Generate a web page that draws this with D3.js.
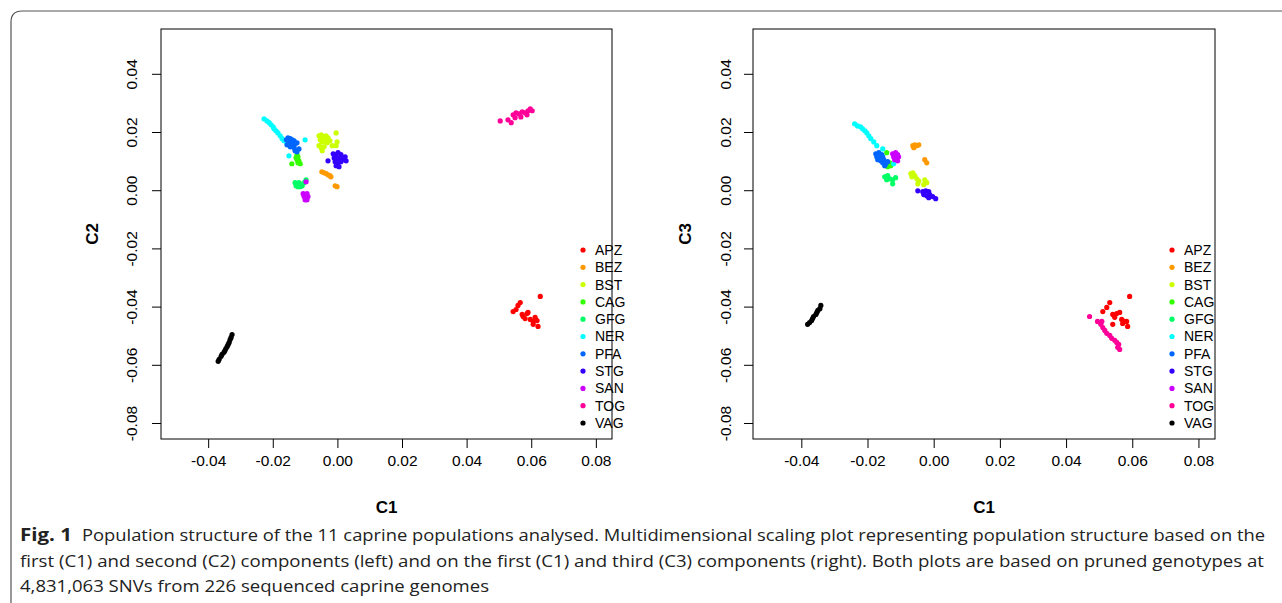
<!DOCTYPE html>
<html>
<head>
<meta charset="utf-8">
<script src="https://cdn.jsdelivr.net/npm/d3@7/dist/d3.min.js"></script>
<style>
  body { margin: 0; background: #fff; }
  svg text { font-family: "Liberation Sans", Arial, sans-serif; }
  .caption { font-family: "Open Sans", "Noto Sans", sans-serif !important; font-size: 17px; fill: #222; }
</style>
</head>
<body>
<div id="chart"></div>
<script>
// populations and their plot colours (R rainbow(10) + black)
const populations = ['APZ', 'BEZ', 'BST', 'CAG', 'GFG', 'NER', 'PFA', 'STG', 'SAN', 'TOG', 'VAG'];
const colors = ['#FF0000', '#FF9900', '#CCFF00', '#33FF00', '#00FF66', '#00FFFF', '#0066FF', '#3300FF', '#CC00FF', '#FF0099', '#000000'];
const xTicks = [-0.04, -0.02, 0.00, 0.02, 0.04, 0.06, 0.08];
const yTicks = [-0.08, -0.06, -0.04, -0.02, 0.00, 0.02, 0.04];

// left plot: [C1, C2]
const c2APZ = [[0.0628,-0.0365],[0.0566,-0.0386],[0.0559,-0.0396],[0.0544,-0.0417],[0.0553,-0.0410],[0.0572,-0.0427],[0.0575,-0.0434],[0.0587,-0.0424],[0.0590,-0.0420],[0.0581,-0.0441],[0.0597,-0.0444],[0.0606,-0.0451],[0.0606,-0.0461],[0.0618,-0.0448],[0.0621,-0.0468],[0.0612,-0.0437]];
const c2BEZ = [[-0.0048,0.0063],[-0.0041,0.0060],[-0.0035,0.0057],[-0.0029,0.0053],[-0.0023,0.0050],[-0.0020,0.0046],[-0.0007,0.0015],[-0.0001,0.0012]];
const c2BST = [[-0.0057,0.0187],[-0.0050,0.0190],[-0.0044,0.0184],[-0.0035,0.0187],[-0.0029,0.0180],[-0.0053,0.0173],[-0.0047,0.0166],[-0.0038,0.0170],[-0.0032,0.0163],[-0.0023,0.0170],[-0.0057,0.0153],[-0.0050,0.0146],[-0.0041,0.0149],[-0.0047,0.0136],[-0.0004,0.0197],[-0.0001,0.0166],[-0.0004,0.0153],[-0.0016,0.0153]];
const c2CAG = [[-0.0125,0.0122],[-0.0122,0.0115],[-0.0125,0.0105],[-0.0119,0.0101],[-0.0122,0.0094],[-0.0115,0.0091],[-0.0141,0.0091],[-0.0128,0.0112]];
const c2GFG = [[-0.0131,0.0026],[-0.0125,0.0022],[-0.0119,0.0026],[-0.0112,0.0019],[-0.0128,0.0015],[-0.0122,0.0012],[-0.0115,0.0012],[-0.0109,0.0015],[-0.0103,0.0026],[-0.0097,0.0036]];
const c2NER = [[-0.0227,0.0245],[-0.0218,0.0238],[-0.0211,0.0232],[-0.0205,0.0225],[-0.0199,0.0218],[-0.0196,0.0211],[-0.0190,0.0204],[-0.0184,0.0197],[-0.0177,0.0187],[-0.0171,0.0177],[-0.0165,0.0170],[-0.0100,0.0173],[-0.0150,0.0118],[-0.0156,0.0163]];
const c2PFA = [[-0.0158,0.0173],[-0.0153,0.0180],[-0.0146,0.0177],[-0.0140,0.0173],[-0.0134,0.0170],[-0.0150,0.0166],[-0.0143,0.0160],[-0.0137,0.0163],[-0.0131,0.0160],[-0.0125,0.0163],[-0.0156,0.0156],[-0.0146,0.0149],[-0.0140,0.0153],[-0.0134,0.0146],[-0.0131,0.0136],[-0.0125,0.0132],[-0.0119,0.0142]];
const c2STG = [[-0.0013,0.0125],[-0.0004,0.0122],[0.0002,0.0129],[0.0011,0.0122],[-0.0010,0.0111],[-0.0001,0.0108],[0.0008,0.0111],[0.0018,0.0105],[0.0027,0.0101],[-0.0007,0.0098],[0.0002,0.0094],[0.0011,0.0098],[-0.0004,0.0084],[0.0005,0.0081],[-0.0029,0.0101],[0.0024,0.0115]];
const c2SAN = [[-0.0106,-0.0012],[-0.0100,-0.0015],[-0.0094,-0.0012],[-0.0103,-0.0022],[-0.0097,-0.0026],[-0.0091,-0.0022],[-0.0100,-0.0033],[-0.0094,-0.0033],[-0.0097,0.0029]];
const c2TOG = [[0.0504,0.0238],[0.0528,0.0242],[0.0538,0.0232],[0.0544,0.0259],[0.0553,0.0266],[0.0562,0.0262],[0.0572,0.0269],[0.0581,0.0266],[0.0590,0.0273],[0.0597,0.0280],[0.0603,0.0273],[0.0587,0.0259],[0.0568,0.0252],[0.0550,0.0249]];
const c2VAG = [[-0.0326,-0.0496],[-0.0329,-0.0506],[-0.0332,-0.0513],[-0.0335,-0.0523],[-0.0338,-0.0530],[-0.0341,-0.0537],[-0.0345,-0.0544],[-0.0348,-0.0551],[-0.0351,-0.0557],[-0.0357,-0.0564],[-0.0360,-0.0571],[-0.0366,-0.0581],[-0.0369,-0.0588]];

// right plot: [C1, C3]
const c3APZ = [[0.0592,-0.0365],[0.0532,-0.0386],[0.0511,-0.0417],[0.0523,-0.0403],[0.0541,-0.0427],[0.0553,-0.0424],[0.0562,-0.0420],[0.0547,-0.0437],[0.0568,-0.0444],[0.0577,-0.0451],[0.0571,-0.0458],[0.0583,-0.0451],[0.0586,-0.0468],[0.0541,-0.0461]];
const c3BEZ = [[-0.0063,0.0153],[-0.0057,0.0156],[-0.0051,0.0153],[-0.0045,0.0156],[-0.0060,0.0146],[-0.0027,0.0105],[-0.0021,0.0094]];
const c3BST = [[-0.0069,0.0057],[-0.0063,0.0060],[-0.0066,0.0046],[-0.0057,0.0050],[-0.0051,0.0039],[-0.0045,0.0032],[-0.0048,0.0022],[-0.0027,0.0036],[-0.0021,0.0026],[-0.0030,0.0019]];
const c3CAG = [[-0.0142,0.0129],[-0.0139,0.0081],[-0.0133,0.0094],[-0.0130,0.0084]];
const c3GFG = [[-0.0148,0.0046],[-0.0139,0.0050],[-0.0142,0.0036],[-0.0133,0.0039],[-0.0124,0.0036],[-0.0115,0.0043],[-0.0124,0.0022]];
const c3NER = [[-0.0239,0.0228],[-0.0230,0.0221],[-0.0221,0.0218],[-0.0215,0.0211],[-0.0208,0.0204],[-0.0202,0.0197],[-0.0196,0.0187],[-0.0190,0.0177],[-0.0181,0.0166],[-0.0172,0.0153],[-0.0154,0.0142],[-0.0121,0.0091]];
const c3PFA = [[-0.0175,0.0125],[-0.0166,0.0129],[-0.0157,0.0122],[-0.0172,0.0115],[-0.0163,0.0111],[-0.0154,0.0115],[-0.0169,0.0105],[-0.0160,0.0101],[-0.0151,0.0105],[-0.0154,0.0094],[-0.0145,0.0091],[-0.0139,0.0098],[-0.0148,0.0084]];
const c3STG = [[-0.0048,-0.0002],[-0.0033,-0.0005],[-0.0024,-0.0002],[-0.0015,-0.0005],[-0.0030,-0.0015],[-0.0021,-0.0019],[-0.0012,-0.0015],[-0.0003,-0.0022],[0.0006,-0.0029],[-0.0015,-0.0026]];
const c3SAN = [[-0.0124,0.0125],[-0.0115,0.0129],[-0.0109,0.0122],[-0.0121,0.0115],[-0.0112,0.0111],[-0.0106,0.0115],[-0.0118,0.0105],[-0.0109,0.0101]];
const c3TOG = [[0.0471,-0.0434],[0.0495,-0.0451],[0.0505,-0.0461],[0.0511,-0.0472],[0.0517,-0.0482],[0.0523,-0.0492],[0.0532,-0.0499],[0.0538,-0.0509],[0.0547,-0.0516],[0.0553,-0.0523],[0.0559,-0.0530],[0.0556,-0.0540],[0.0562,-0.0547],[0.0508,-0.0451]];
const c3VAG = [[-0.0341,-0.0396],[-0.0344,-0.0407],[-0.0350,-0.0413],[-0.0353,-0.0420],[-0.0356,-0.0427],[-0.0363,-0.0434],[-0.0366,-0.0441],[-0.0369,-0.0448],[-0.0375,-0.0455],[-0.0381,-0.0461]];

const leftSets = [c2APZ, c2BEZ, c2BST, c2CAG, c2GFG, c2NER, c2PFA, c2STG, c2SAN, c2TOG, c2VAG];
const rightSets = [c3APZ, c3BEZ, c3BST, c3CAG, c3GFG, c3NER, c3PFA, c3STG, c3SAN, c3TOG, c3VAG];

const W = 1282, H = 603;
const svg = d3.select('#chart').append('svg')
    .attr('width', W)
    .attr('height', H);

// rounded frame of the figure
svg.append('path')
    .attr('d', 'M11,603 L11,22 Q11,11 22,11 L1282,11')
    .attr('fill', 'none')
    .attr('stroke', '#555')
    .attr('stroke-width', 1.2);

// R style labels, plain hyphen for minus
const fmt = d => d.toFixed(2);

function drawPanel(box, sets, yTitle) {
    const x = d3.scaleLinear().domain([-0.0546, 0.0850]).range([box.left, box.right]);
    const y = d3.scaleLinear().domain([-0.0855, 0.0554]).range([box.bottom, box.top]);
    const g = svg.append('g');

    const xAxis = d3.axisBottom(x)
        .tickValues(xTicks)
        .tickFormat(fmt)
        .tickSize(9)
        .tickPadding(7)
        .tickSizeOuter(0);
    const xg = g.append('g')
        .attr('transform', `translate(0, ${box.bottom})`)
        .call(xAxis);
    xg.select('.domain').remove();
    xg.selectAll('text').attr('font-size', 15.5).attr('font-family', 'Liberation Sans, Arial, sans-serif').attr('fill', '#000');

    const yAxis = d3.axisLeft(y)
        .tickValues(yTicks)
        .tickFormat(fmt)
        .tickSize(9)
        .tickSizeOuter(0);
    const yg = g.append('g')
        .attr('transform', `translate(${box.left}, 0)`)
        .call(yAxis);
    yg.select('.domain').remove();
    yg.selectAll('text')
        .attr('font-size', 15.5)
        .attr('font-family', 'Liberation Sans, Arial, sans-serif')
        .attr('fill', '#000')
        .attr('text-anchor', 'middle')
        .attr('dy', 0)
        .attr('x', 0)
        .attr('transform', d => `translate(${box.yLab - box.left}, 0) rotate(-90)`);

    g.append('rect')
        .attr('x', box.left).attr('y', box.top)
        .attr('width', box.right - box.left)
        .attr('height', box.bottom - box.top)
        .attr('fill', 'none')
        .attr('stroke', '#000')
        .attr('stroke-width', 1);

    sets.forEach((pts, i) => {
        g.append('g').selectAll('circle')
            .data(pts)
            .enter()
            .append('circle')
            .attr('cx', d => x(d[0]))
            .attr('cy', d => y(d[1]))
            .attr('r', 2.6)
            .attr('fill', colors[i]);
    });

    // axis titles
    g.append('text')
        .attr('x', (box.left + box.right) / 2)
        .attr('y', 513)
        .attr('text-anchor', 'middle')
        .attr('font-weight', 'bold')
        .attr('font-size', 17)
        .text('C1');
    g.append('text')
        .attr('transform', `translate(${box.yTitle}, 234) rotate(-90)`)
        .attr('text-anchor', 'middle')
        .attr('font-weight', 'bold')
        .attr('font-size', 17)
        .text(yTitle);

    // legend, no box
    const leg = g.append('g');
    populations.forEach((p, i) => {
        const ly = 250 + i * 17.3;
        leg.append('circle')
            .attr('cx', box.legX)
            .attr('cy', ly)
            .attr('r', 2.6)
            .attr('fill', colors[i]);
        leg.append('text')
            .attr('x', box.legX + 12)
            .attr('y', ly)
            .attr('dy', '0.35em')
            .attr('font-size', 14)
            .text(p);
    });
}

drawPanel({left: 161, right: 612, top: 29, bottom: 439, yLab: 137, yTitle: 98, legX: 583}, leftSets, 'C2');
drawPanel({left: 753, right: 1215, top: 29, bottom: 439, yLab: 731, yTitle: 691, legX: 1172}, rightSets, 'C3');

// caption
svg.append('text')
    .attr('class', 'caption')
    .attr('x', 20).attr('y', 541)
    .attr('font-weight', 'bold')
    .attr('textLength', 52)
    .attr('lengthAdjust', 'spacingAndGlyphs')
    .text('Fig. 1');
svg.append('text')
    .attr('class', 'caption')
    .attr('x', 82).attr('y', 541)
    .attr('textLength', 1183)
    .attr('lengthAdjust', 'spacingAndGlyphs')
    .text('Population structure of the 11 caprine populations analysed. Multidimensional scaling plot representing population structure based on the');
svg.append('text')
    .attr('class', 'caption')
    .attr('x', 20).attr('y', 567)
    .attr('textLength', 1244)
    .attr('lengthAdjust', 'spacingAndGlyphs')
    .text('first (C1) and second (C2) components (left) and on the first (C1) and third (C3) components (right). Both plots are based on pruned genotypes at');
svg.append('text')
    .attr('class', 'caption')
    .attr('x', 20).attr('y', 592)
    .attr('textLength', 469)
    .attr('lengthAdjust', 'spacingAndGlyphs')
    .text('4,831,063 SNVs from 226 sequenced caprine genomes');
</script>
</body>
</html>
